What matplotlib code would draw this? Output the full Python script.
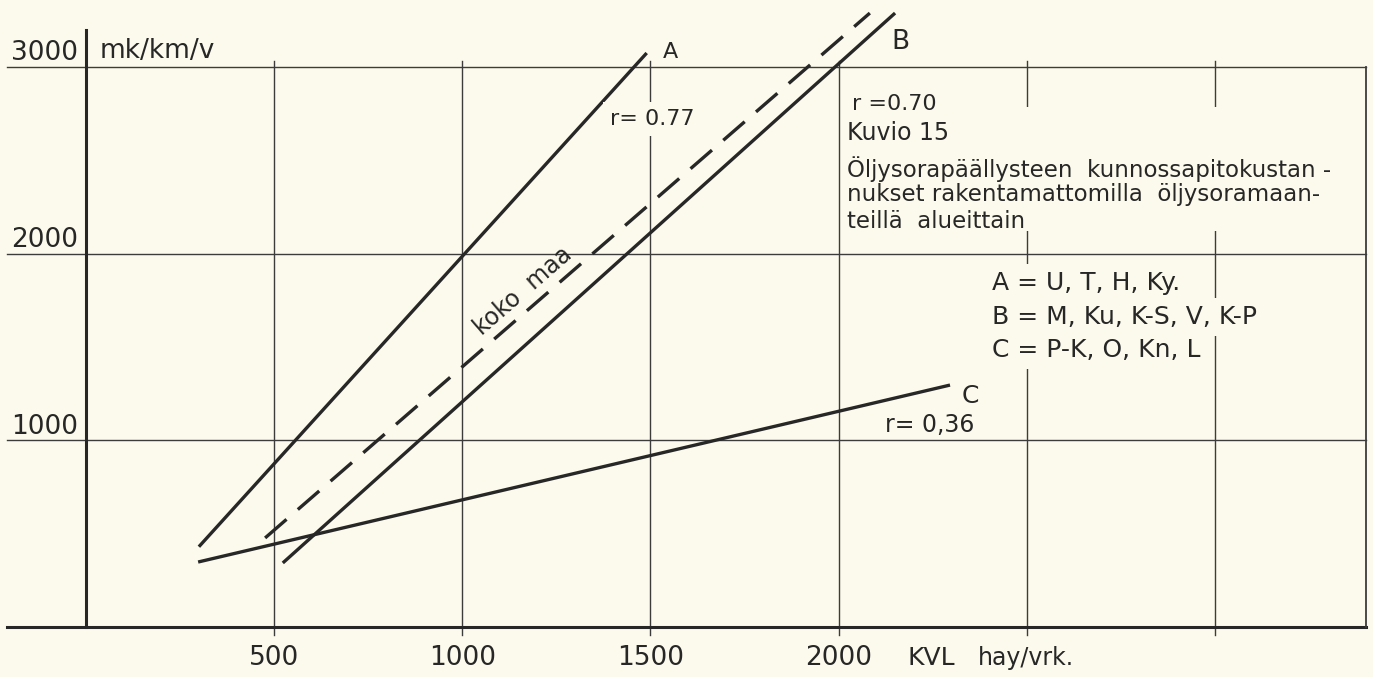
import matplotlib.pyplot as plt
from matplotlib.patches import Rectangle

# Kunnossapitokustannukset (mk/km/v) liikennemäärän (KVL) mukaan
kvl_a = [300, 1490]
cost_a = [430, 3075]
kvl_b = [523, 2150]
cost_b = [343, 3289]
kvl_koko = [476, 2083]
cost_koko = [477, 3289]
kvl_c = [298, 2296]
cost_c = [348, 1296]

x_ticks = [500, 1000, 1500, 2000, 2500, 3000]
x_tick_labels = ["500", "1000", "1500", "2000", "", ""]
y_ticks = [1000, 2000, 3000]
y_tick_labels = ["1000", "2000", "3000"]

r_a = "0.77"
r_b = "0.70"
r_c = "0,36"

groups = ["A = U, T, H, Ky.", "B = M, Ku, K-S, V, K-P", "C = P-K, O, Kn, L"]

BG = "#fcfaec"
INK = "#272727"
GRID = "#3c3c3c"

fig = plt.figure(figsize=(13.73, 6.77), dpi=100)
fig.patch.set_facecolor(BG)
ax = fig.add_axes([0, 0, 1, 1])
ax.set_facecolor(BG)
ax.set_xlim(-228.5, 3420)
ax.set_ylim(-268, 3359)
ax.axis("off")

x_left, x_right = -210, 3401

# ruudukko
for y in y_ticks:
    ax.plot([x_left, x_right], [y, y], color=GRID, lw=1.0, zorder=1)
for x in x_ticks:
    ax.plot([x, x], [-45, 3030], color=GRID, lw=1.0, zorder=1)
ax.plot([x_left, x_right], [0, 0], color=INK, lw=2.2, zorder=2)
ax.plot([0, 0], [0, 3200], color=INK, lw=2.2, zorder=2)
ax.plot([x_right, x_right], [0, 3000], color=GRID, lw=1.3, zorder=2)

# otsikkoalue jätetään ruudukotta
ax.add_patch(Rectangle((2010, 2120), 1380, 665, facecolor=BG, edgecolor="none", zorder=1.5))

# regressiosuorat
line_kw = dict(color=INK, lw=2.4, solid_capstyle="butt", zorder=3)
ax.plot(kvl_a, cost_a, **line_kw)
ax.plot(kvl_b, cost_b, **line_kw)
ax.plot(kvl_c, cost_c, **line_kw)
ax.plot(kvl_koko, cost_koko, color=INK, lw=2.4, dashes=(8.5, 4.5),
        dash_capstyle="butt", zorder=3)

txt = dict(color=INK, family="DejaVu Sans", zorder=5)
gap = dict(facecolor=BG, edgecolor="none", pad=5)

for y, lbl in zip(y_ticks, y_tick_labels):
    ax.text(-22, y + 35, lbl, ha="right", va="baseline", fontsize=19, **txt)
for x, lbl in zip(x_ticks, x_tick_labels):
    ax.text(x, -203, lbl, ha="center", va="baseline", fontsize=19, **txt)

ax.text(37, 3048, "mk/km/v", ha="left", va="baseline", fontsize=19, **txt)
ax.text(2184, -203, "KVL", ha="left", va="baseline", fontsize=18, **txt)
ax.text(2370, -203, "hay/vrk.", ha="left", va="baseline", fontsize=17, **txt)

# käyrien tunnukset
ax.text(1552, 3080, "A", ha="center", va="center", fontsize=16, **txt)
ax.text(2163, 3134, "B", ha="center", va="center", fontsize=19, **txt)
ax.text(2349, 1237, "C", ha="center", va="center", fontsize=18, **txt)
ax.text(1392, 2721, "r= " + r_a, ha="left", va="center", fontsize=16, bbox=gap, **txt)
ax.text(2035, 2802, "r =" + r_b, ha="left", va="center", fontsize=16, **txt)
ax.text(2123, 1082, "r= " + r_c, ha="left", va="center", fontsize=17, **txt)
ax.text(1162, 1802, "koko  maa", ha="center", va="center", fontsize=17,
        rotation=41, rotation_mode="anchor", **txt)

# otsikko
ax.text(2022, 2645, "Kuvio 15", ha="left", va="center", fontsize=17, **txt)
title_lines = ["Öljysorapäällysteen  kunnossapitokustan -",
               "nukset rakentamattomilla  öljysoramaan-",
               "teillä  alueittain"]
for i, line in enumerate(title_lines):
    ax.text(2022, 2455 - i * 140, line, ha="left", va="center", fontsize=16.5, **txt)

for i, g in enumerate(groups):
    ax.text(2407, 1843 - i * 180, g, ha="left", va="center", fontsize=18,
            bbox=gap, **txt)

fig.savefig("out.png", dpi=100, facecolor=BG)
